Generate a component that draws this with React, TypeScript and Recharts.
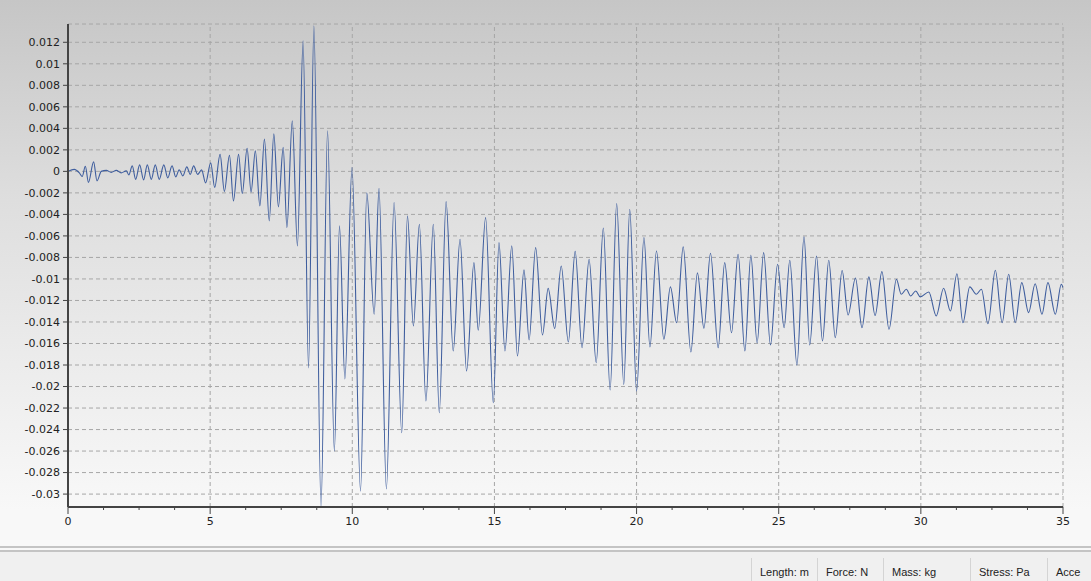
import React from 'react';
import {LineChart, Line, XAxis, YAxis, CartesianGrid, ReferenceLine} from 'recharts';

// time (s) of each peak / trough
const times = [
  0.0, 0.22, 0.4, 0.5, 0.61, 0.72, 0.9, 1.02, 1.17, 1.35, 1.52, 1.7, 1.87, 2.05,
  2.14, 2.26, 2.38, 2.52, 2.66, 2.79, 2.93, 3.07, 3.21, 3.37, 3.51, 3.66, 3.79, 3.91,
  4.04, 4.18, 4.3, 4.42, 4.56, 4.7, 4.84,
  5.02, 5.16, 5.35, 5.5, 5.68, 5.82, 6.0, 6.13, 6.3, 6.44, 6.59, 6.75, 6.91, 7.08,
  7.24, 7.4, 7.57, 7.7, 7.89, 8.07, 8.27, 8.46, 8.65, 8.9, 9.13, 9.37, 9.55, 9.74,
  9.99, 10.29, 10.51, 10.77, 10.94, 11.2, 11.47, 11.74, 11.94, 12.15, 12.36, 12.59,
  12.85, 13.06, 13.3, 13.55, 13.79, 14.02, 14.28, 14.43, 14.69, 14.96, 15.16, 15.37,
  15.61, 15.81, 16.04, 16.22, 16.45, 16.69, 16.89, 17.12, 17.35, 17.6, 17.84, 18.08,
  18.33, 18.58, 18.83, 19.07, 19.3, 19.55, 19.76, 20.0, 20.26, 20.47, 20.7, 20.96,
  21.19, 21.41, 21.64, 21.91, 22.14, 22.37, 22.6, 22.87, 23.1, 23.34, 23.57, 23.81,
  24.02, 24.24, 24.47, 24.71, 24.96, 25.19, 25.39, 25.64, 25.89, 26.09, 26.33, 26.54,
  26.76, 26.99, 27.23, 27.44, 27.7, 27.93, 28.17, 28.39, 28.63, 28.88, 29.14, 29.31,
  29.49, 29.64, 29.82, 29.98, 30.28, 30.54, 30.8, 31.04, 31.27, 31.48, 31.72, 31.95,
  32.13, 32.36, 32.62, 32.86, 33.09, 33.32, 33.55, 33.79, 34.02, 34.26, 34.47, 34.73,
  34.94, 35.0,
];

// displacement (m) at those times
const displacement = [
  0, 0.00019, -0.00014, -0.00047, 0.00047, -0.00102, 0.00088, -0.00088, 0, 0.00009,
  -0.00009, 0.00009, -0.00014, 0.00005, -0.00033, 0.00051, -0.00074, 0.0006, -0.00079,
  0.0006, -0.00074, 0.0006, -0.00074, 0.0006, -0.0006, 0.00051, -0.00051, 0.00014,
  -0.00042, 0.00042, -0.00028, 0.00051, -0.00028, 0.00014, -0.00107,
  0.00079, -0.00149, 0.00158, -0.00186, 0.00149, -0.00274, 0.00158, -0.00205, 0.00214,
  -0.00191, 0.00191, -0.00321, 0.003, -0.0046, 0.00349, -0.0033, 0.00223, -0.00523,
  0.0047, -0.00693, 0.01214, -0.01828, 0.01353, -0.03121, 0.00377, -0.026, -0.00507,
  -0.0193, 0.00035, -0.02972, -0.002, -0.01328, -0.00158, -0.02953, -0.0029, -0.0243,
  -0.00414, -0.01437, -0.00491, -0.02135, -0.00491, -0.02244, -0.00281, -0.0167,
  -0.00631, -0.01856, -0.00848, -0.01477, -0.0043, -0.02151, -0.00662, -0.0167,
  -0.00693, -0.01716, -0.00916, -0.01567, -0.00709, -0.01521, -0.01088, -0.0146,
  -0.00879, -0.01586, -0.00744, -0.01639, -0.00817, -0.01779, -0.00526, -0.02033,
  -0.00298, -0.0198, -0.00352, -0.02042, -0.00616, -0.01633, -0.0074, -0.01561,
  -0.01074, -0.01407, -0.00702, -0.01679, -0.00944, -0.01459, -0.00761, -0.01639,
  -0.00848, -0.015, -0.0077, -0.0167, -0.0078, -0.01593, -0.00755, -0.01614, -0.00863,
  -0.01453, -0.00826, -0.018, -0.00609, -0.01614, -0.00786, -0.01577, -0.00826,
  -0.01546, -0.00921, -0.01335, -0.00991, -0.01453, -0.00981, -0.0134, -0.00932,
  -0.01468, -0.01003, -0.01142, -0.01096, -0.01158, -0.01112, -0.01167, -0.01121,
  -0.01344, -0.01087, -0.01298, -0.00951, -0.01407, -0.01074, -0.01142, -0.01096,
  -0.01416, -0.00919, -0.01407, -0.00956, -0.01407, -0.01034, -0.01313, -0.01044,
  -0.01328, -0.01034, -0.01328, -0.01049, -0.01081,
];

const yTicks = [
  0.012, 0.01, 0.008, 0.006, 0.004, 0.002, 0, -0.002, -0.004, -0.006, -0.008, -0.01,
  -0.012, -0.014, -0.016, -0.018, -0.02, -0.022, -0.024, -0.026, -0.028, -0.03,
];
const xTicks = [
  0, 1.25, 2.5, 3.75, 5, 6.25, 7.5, 8.75, 10, 11.25, 12.5, 13.75, 15, 16.25, 17.5, 18.75,
  20, 21.25, 22.5, 23.75, 25, 26.25, 27.5, 28.75, 30, 31.25, 32.5, 33.75, 35,
];
const xGrid = [5, 10, 15, 20, 25, 30, 35];
const units = ['Length: m', 'Force: N', 'Mass: kg', 'Stress: Pa', 'Acce'];

const data = times.map((t, i) => ({t, v: displacement[i]}));

const axisColor = '#444';
const labelFont = '"DejaVu Sans", Verdana, sans-serif';

function TimeTick(props: any) {
  const {x, y, payload} = props;
  const major = payload.value % 5 === 0;
  return (
    <g>
      <line x1={x} y1={y} x2={x} y2={y + (major ? 7 : 3)} stroke={axisColor} strokeWidth={1} />
      {major && (
        <text x={x} y={y + 10} dy="0.71em" textAnchor="middle" fontSize={11} fill="#222" fontFamily={labelFont}>
          {payload.value}
        </text>
      )}
    </g>
  );
}

export default function App() {
  return (
    <div
      style={{
        position: 'absolute',
        left: 0,
        top: 0,
        width: 1091,
        height: 581,
        overflow: 'hidden',
        background: 'linear-gradient(#c6c6c6 0px, #dedede 200px, #efefef 400px, #f8f8f8 510px, #f8f8f8 581px)',
      }}
    >
      <LineChart width={1091} height={545} data={data} margin={{top: 24, right: 28, left: 8, bottom: 8}}>
        <CartesianGrid vertical={false} stroke="#a6a6a6" strokeDasharray="4 3" />
        {xGrid.map((g) => (
          <ReferenceLine key={g} x={g} stroke="#a6a6a6" strokeDasharray="4 3" />
        ))}
        <XAxis
          dataKey="t"
          type="number"
          domain={[0, 35]}
          ticks={xTicks}
          interval={0}
          allowDataOverflow
          height={30}
          tickSize={0}
          tickMargin={0}
          tick={<TimeTick />}
          axisLine={{stroke: axisColor, strokeWidth: 2}}
        />
        <YAxis
          type="number"
          domain={[-0.0312, 0.0137]}
          ticks={yTicks}
          interval={0}
          allowDataOverflow
          width={60}
          tickSize={5}
          tickMargin={3}
          tickLine={{stroke: axisColor}}
          axisLine={{stroke: axisColor, strokeWidth: 2}}
          tick={{fontSize: 11, fill: '#222', fontFamily: labelFont}}
          tickFormatter={(v: number) => String(v)}
        />
        <Line
          type="monotone"
          dataKey="v"
          stroke="#3f5e9e"
          strokeWidth={1.1}
          dot={false}
          isAnimationActive={false}
        />
      </LineChart>
      <div style={{position: 'absolute', left: 0, top: 546, width: 1091, height: 2, background: '#c4c4c4'}} />
      <div style={{position: 'absolute', left: 0, top: 550, width: 1091, height: 2, background: '#c4c4c4'}} />
      <div
        style={{
          position: 'absolute',
          left: 0,
          top: 552,
          width: 1091,
          height: 29,
          background: '#f0f0f0',
          fontFamily: '"Liberation Sans", Arial, sans-serif',
          fontSize: 11,
          color: '#222',
        }}
      >
        {units.map((u, i) => (
          <div
            key={u}
            style={{
              position: 'absolute',
              left: [751, 817, 883, 970, 1047][i],
              top: 6,
              height: 23,
              paddingLeft: 8,
              lineHeight: '28px',
              borderLeft: '1px solid #d4d4d4',
              whiteSpace: 'nowrap',
            }}
          >
            {u}
          </div>
        ))}
      </div>
    </div>
  );
}
